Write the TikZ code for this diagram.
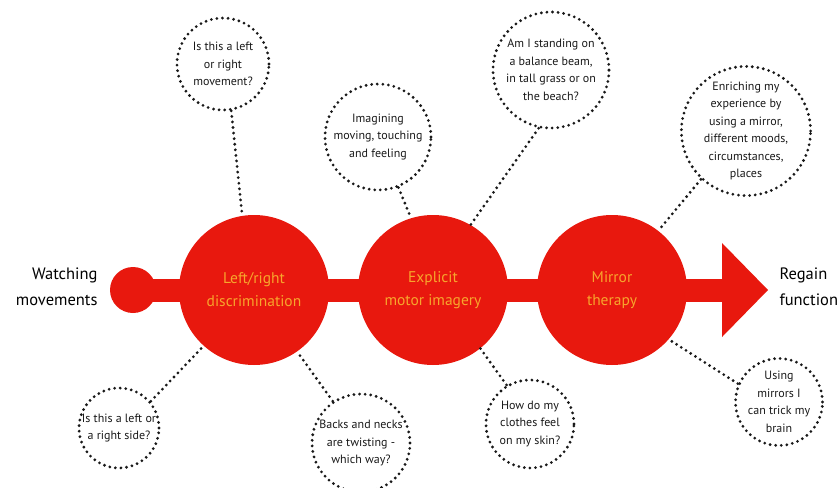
\documentclass[tikz,border=0pt]{standalone}
\usepackage{fontspec}
\setmainfont{PT Sans}
\definecolor{mainred}{RGB}{232,24,14}
\definecolor{labelorange}{RGB}{247,166,44}
\definecolor{inkgray}{RGB}{25,25,25}
\begin{document}
\begin{tikzpicture}[x=1pt, y=-1pt,
	stage/.style={circle, fill=mainred, minimum size=150pt, inner sep=0pt, align=center, text=labelorange, font=\fontsize{15.5}{23}\selectfont},
	bubble/.style={circle, draw=inkgray, line width=3.1pt, dash pattern=on 0pt off 5.6pt, line cap=round, inner sep=0pt, align=center, text=inkgray, font=\fontsize{12}{17.5}\selectfont},
	dots/.style={draw=inkgray, line width=3.1pt, dash pattern=on 0pt off 5.6pt, line cap=round},
	side/.style={text=black, font=\fontsize{16.5}{26}\selectfont}]
	\useasboundingbox (0, 0) rectangle (837, 487);

	% the red axis
	\node[circle, fill=mainred, minimum size=46pt, inner sep=0pt] (start) at (133, 290) {};
	\coordinate (head) at (722, 290);
	\coordinate (tip) at (768, 290);
	\draw[mainred, line width=23pt] (start.center) -- (head);
	\fill[mainred] ([yshift=47pt]head) -- (tip) -- ([yshift=-47pt]head) -- cycle;

	\node[stage] (left-right) at (254, 290) {Left/right\\discrimination};
	\node[stage] (explicit) at (433, 290) {Explicit\\motor imagery};
	\node[stage] (mirror) at (612, 290) {Mirror\\therapy};

	\node[side, anchor=east, align=right] (watching) at (101, 287) {Watching\\movements};
	\node[side, anchor=west, align=left] (regain) at (776, 287) {Regain\\function};

	% questions above
	\node[bubble, minimum size=92pt] (q-movement) at (223, 64) {Is this a left\\or right\\movement?};
	\node[bubble, minimum size=106pt] (q-imagining) at (378, 137) {Imagining\\moving, touching\\and feeling};
	\node[bubble, minimum size=116pt] (q-standing) at (551, 70) {Am I standing on\\a balance beam,\\in tall grass or on\\the beach?};
	\node[bubble, minimum size=128pt] (q-enriching) at (746, 131) {Enriching my\\experience by\\using a mirror,\\different moods,\\circumstances,\\places};

	% questions below
	\node[bubble, minimum size=80pt] (q-side) at (119, 428) {Is this a left or\\a right side?};
	\node[bubble, minimum size=98pt] (q-twisting) at (361, 443) {Backs and necks\\are twisting -\\which way?};
	\node[bubble, minimum size=88pt] (q-clothes) at (530, 424) {How do my\\clothes feel\\on my skin?};
	\node[bubble, minimum size=82pt] (q-trick) at (779, 402) {Using\\mirrors I\\can trick my\\brain};

	\draw[dots] (q-movement.280) -- (left-right.99);
	\draw[dots] (q-imagining.292) -- (explicit.107);
	\draw[dots] (q-standing.258) -- (explicit.60);
	\draw[dots] (q-enriching.227) -- (mirror.52);
	\draw[dots] (q-side.40) -- (left-right.228);
	\draw[dots] (q-twisting.124) -- (left-right.305);
	\draw[dots] (q-clothes.121) -- (explicit.309);
	\draw[dots] (q-trick.156) -- (mirror.319);
\end{tikzpicture}
\end{document}
